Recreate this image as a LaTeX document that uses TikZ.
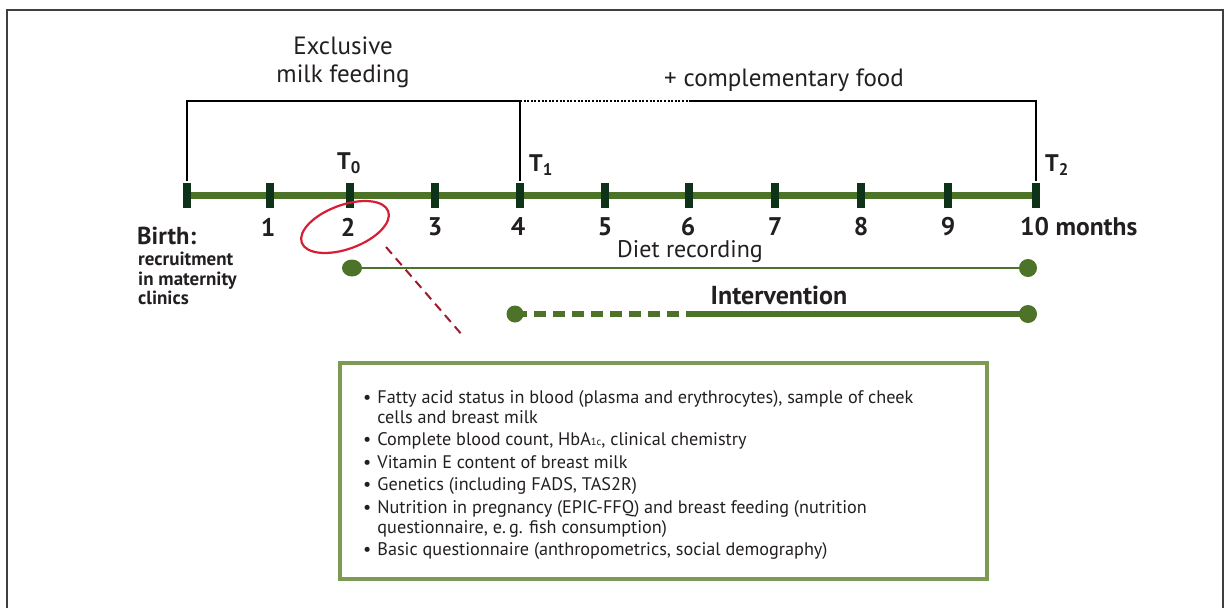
\documentclass[tikz,border=0pt]{standalone}
\usepackage{fontspec}
\setmainfont{PT Sans}
\usetikzlibrary{shapes.geometric}
\definecolor{tl}{HTML}{4C7328}
\definecolor{tickc}{HTML}{0E3318}
\definecolor{txt}{HTML}{231F20}
\definecolor{ring}{HTML}{D81E34}
\definecolor{pointer}{HTML}{9B1B30}
\definecolor{boxg}{HTML}{7D9A55}
\definecolor{framec}{HTML}{3F3F3F}
\begin{document}
\begin{tikzpicture}[x=1pt,y=-1pt,
  lbl/.style={text=txt, inner sep=0pt, font=\fontsize{25}{28}\selectfont},
  num/.style={text=txt, inner sep=0pt, font=\fontsize{25.5}{28}\selectfont\bfseries},
  tlab/.style={text=txt, inner sep=0pt, anchor=west, font=\fontsize{24}{26}\selectfont\bfseries},
  bracket/.style={draw=black, line width=2.2pt},
  dotted bracket/.style={draw=black, line width=2.2pt, dash pattern=on 2pt off 1.6pt},
  tickbar/.style={fill=tickc},
  dot/.style={fill=tl},
  thinline/.style={draw=tl, line width=2pt},
  thickline/.style={draw=tl, line width=5.5pt},
  ]
\useasboundingbox (0,0) rectangle (1230,608);
% frame
\draw[framec, line width=2.5pt] (7,608) -- (7,10) -- (1223,10) -- (1223,608);

% timeline
\foreach \i/\x in {0/187,1/270,2/350,3/435,4/520,5/605,6/689,7/775,8/861,9/948,10/1036}{
  \coordinate (m\i) at (\x,195);
}
\draw[tl, line width=7pt] (m0) -- (m10);
\foreach \i/\x in {0/187,1/270,2/350,3/435,4/520,5/605,6/689,7/775,8/861,9/948,10/1036}{
  \fill[tickbar] (\x-4,183) rectangle (\x+4,208);
}
\foreach \i/\x in {1/268,2/348,3/435,4/518,5/605,6/688,7/775,8/861,9/948}{
  \node[num] (n\i) at (\x,227) {\i};
}
\node[num, anchor=west] (n10) at (1020,227) {10 months};

% bracket
\coordinate (b0) at (187,101);
\coordinate (b4) at (520,101);
\coordinate (b6) at (689,101);
\coordinate (b10) at (1036,101);
\coordinate (v0) at (187,181);
\coordinate (v4) at (520,181);
\coordinate (v10) at (1036,181);
\draw[bracket] (v0) -- (b0) -- (b4) -- (v4);
\draw[dotted bracket] (b4) -- (b6);
\draw[bracket] (b6) -- (b10) -- (v10);

\node[lbl, align=center] (excl) at (343,62) {Exclusive\\milk feeding};
\node[lbl] (comp) at (784,80) {+ complementary food};

\node[tlab] (t0) at (337,163) {T\textsubscript{0}};
\node[tlab] (t1) at (529,165) {T\textsubscript{1}};
\node[tlab] (t2) at (1045,165) {T\textsubscript{2}};

% birth
\node[text=txt, inner sep=0pt, anchor=west, font=\fontsize{24.5}{26}\selectfont\bfseries] (birth) at (137,236) {Birth:};
\node[text=txt, inner sep=0pt, anchor=north west, align=left, font=\fontsize{19}{19.5}\selectfont\bfseries] (recr) at (138,252) {recruitment\\in maternity\\clinics};

% ring + pointer
\node[ellipse, draw=ring, line width=2.2pt, minimum width=92pt, minimum height=44pt, inner sep=0pt, rotate=20] (ring) at (345,227) {};
\coordinate (p1) at (386,247);
\coordinate (p2) at (463,336);
\draw[pointer, line width=2pt, dash pattern=on 9pt off 6pt] (p1) -- (p2);

% diet recording
\node[lbl, font=\fontsize{24}{26}\selectfont] (diet) at (690,252) {Diet recording};
\coordinate (d1) at (352,268);
\coordinate (d2) at (1028,268);
\draw[thinline] (d1) -- (d2);
\fill[dot] (d1) ellipse [x radius=10pt, y radius=8.5pt];
\fill[dot] (d2) circle [radius=9pt];

% intervention
\node[lbl, font=\fontsize{26}{28}\selectfont\bfseries] (interv) at (779,295) {Intervention};
\coordinate (i1) at (515,314);
\coordinate (i2) at (689,314);
\coordinate (i3) at (1028,314);
\draw[thickline, dash pattern=on 12pt off 7pt] (i1) -- (i2);
\draw[thickline] (i2) -- (i3);
\fill[dot] (i1) circle [radius=8.5pt];
\fill[dot] (i3) circle [radius=9pt];

% box
\draw[boxg, line width=4pt] (340,363) rectangle (987,579);
\node[text=txt, inner sep=0pt, anchor=north west, font=\fontsize{18.2}{20}\selectfont] (items) at (363,389) {%
\begin{tabular}{@{}l@{\hspace{6pt}}l@{}}
• & Fatty acid status in blood (plasma and erythrocytes), sample of cheek\\
  & cells and breast milk\\[2.5pt]
• & Complete blood count, HbA{\fontsize{10.5}{10}\selectfont 1c}, clinical chemistry\\[2.5pt]
• & Vitamin E content of breast milk\\[2.5pt]
• & Genetics (including FADS, TAS2R)\\[2.5pt]
• & Nutrition in pregnancy (EPIC-FFQ) and breast feeding (nutrition\\
  & questionnaire, e.\,g. fish consumption)\\[2.5pt]
• & Basic questionnaire (anthropometrics, social demography)
\end{tabular}};
\end{tikzpicture}
\end{document}
